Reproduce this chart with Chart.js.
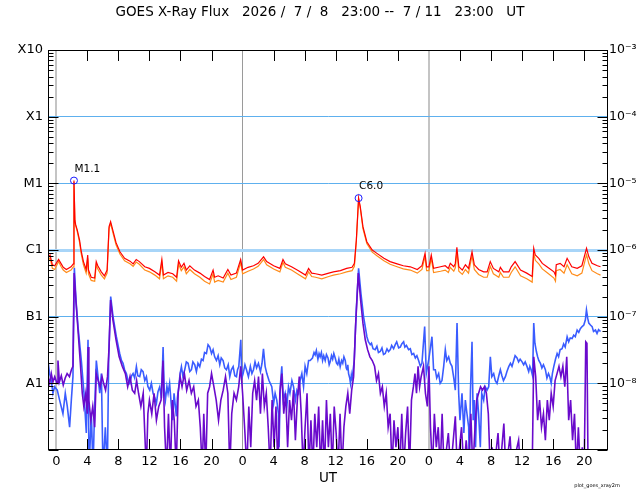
<!DOCTYPE html>
<html><head><meta charset="utf-8">
<script src="https://cdn.jsdelivr.net/npm/chart.js@4.4.1/dist/chart.umd.min.js"></script>
<style>html,body{margin:0;padding:0;background:#fff;}</style>
</head><body>
<canvas id="c" width="640" height="500"></canvas>
<script>
// Time in hours relative to 2026-07-09 00:00 UT
const longT = [-1.0,-0.8,-0.5,-0.2,0.3,0.6,0.9,1.3,1.9,2.2,2.28,2.4,2.5,2.7,3.0,3.2,3.5,3.85,4.05,4.15,4.5,4.95,5.15,5.35,5.8,6.2,6.55,6.8,7.0,7.3,7.7,8.2,8.8,9.5,9.9,10.3,10.7,11.4,12.0,12.7,13.3,13.6,13.8,14.4,15.0,15.5,15.75,16.1,16.45,16.75,17.2,17.8,18.5,19.1,19.75,20.2,20.4,20.85,21.5,22.1,22.5,23.2,23.75,24.0,24.7,25.4,26.0,26.7,27.1,28.0,28.8,29.2,29.5,30.3,31.2,32.1,32.5,32.9,33.4,34.2,35.1,35.7,36.6,37.4,38.1,38.4,38.65,38.94,39.15,39.5,40.0,40.7,41.3,42.2,43.0,43.9,44.7,45.6,46.5,47.1,47.5,47.7,48.0,48.3,48.6,49.5,50.1,50.5,50.75,51.2,51.4,51.6,51.85,52.3,52.7,53.1,53.55,53.85,54.4,55.05,55.5,55.9,56.3,57.0,57.2,57.6,58.3,58.6,59.1,59.8,60.6,61.3,61.5,61.7,62.15,62.6,63.2,64.1,64.3,64.4,64.9,65.4,65.8,66.4,67.1,67.7,68.3,68.6,69.0,69.7,70.1];
// 1-8 A flux (red)
const longF = [7.8e-7,8.4e-7,6.0e-7,5.8e-7,7.2e-7,6.3e-7,5.5e-7,5.1e-7,5.6e-7,6.2e-7,1.1e-5,2.8e-6,2.4e-6,2.0e-6,1.41e-6,9.8e-7,6.7e-7,5.1e-7,8.4e-7,5.0e-7,3.9e-7,3.8e-7,6.7e-7,5.8e-7,4.7e-7,4.1e-7,5.0e-7,2.24e-6,2.66e-6,1.95e-6,1.29e-6,9.4e-7,7.5e-7,6.8e-7,6.2e-7,7.2e-7,6.7e-7,5.6e-7,5.3e-7,4.7e-7,4.2e-7,7.2e-7,4.2e-7,4.6e-7,4.4e-7,3.9e-7,6.9e-7,5.5e-7,6.3e-7,5.0e-7,5.8e-7,5.0e-7,4.5e-7,4.0e-7,3.6e-7,5.0e-7,3.9e-7,4.1e-7,3.8e-7,5.1e-7,4.2e-7,4.5e-7,7.2e-7,5.0e-7,5.5e-7,5.8e-7,6.3e-7,7.9e-7,6.7e-7,5.8e-7,5.3e-7,7.2e-7,6.2e-7,5.6e-7,4.9e-7,4.2e-7,5.3e-7,4.5e-7,4.4e-7,4.2e-7,4.5e-7,4.7e-7,4.9e-7,5.3e-7,5.5e-7,6.3e-7,1.41e-6,6.0e-6,4.5e-6,2.24e-6,1.33e-6,1.0e-6,8.9e-7,7.5e-7,6.7e-7,6.2e-7,5.8e-7,5.6e-7,5.1e-7,5.8e-7,8.9e-7,5.6e-7,5.6e-7,8.4e-7,5.3e-7,5.6e-7,5.8e-7,5.3e-7,6.3e-7,5.6e-7,6.3e-7,1.1e-6,5.6e-7,5.0e-7,6.0e-7,5.3e-7,9.4e-7,6.0e-7,5.1e-7,4.7e-7,4.7e-7,6.7e-7,5.3e-7,4.7e-7,5.5e-7,4.7e-7,4.7e-7,5.6e-7,6.7e-7,5.0e-7,4.5e-7,4.0e-7,1.06e-6,8.4e-7,7.5e-7,6.3e-7,5.6e-7,4.7e-7,4.2e-7,6.0e-7,6.3e-7,5.6e-7,7.5e-7,5.6e-7,5.3e-7,5.8e-7,1.06e-6,7.9e-7,6.3e-7,5.8e-7,5.6e-7];
// 1-8 A flux, second satellite (orange)
const longF2 = [7.1e-7,7.6e-7,5.3e-7,5.1e-7,6.7e-7,5.7e-7,5.0e-7,4.6e-7,5.0e-7,5.6e-7,1.05e-5,2.7e-6,2.3e-6,1.9e-6,1.3e-6,9.0e-7,6.0e-7,4.5e-7,7.5e-7,4.4e-7,3.5e-7,3.4e-7,6.0e-7,5.2e-7,4.2e-7,3.7e-7,4.5e-7,2.1e-6,2.5e-6,1.8e-6,1.2e-6,8.7e-7,6.9e-7,6.2e-7,5.7e-7,6.6e-7,6.1e-7,5.0e-7,4.7e-7,4.2e-7,3.7e-7,6.5e-7,3.7e-7,4.1e-7,3.9e-7,3.4e-7,6.2e-7,4.9e-7,5.6e-7,4.4e-7,5.1e-7,4.4e-7,3.9e-7,3.4e-7,3.1e-7,4.4e-7,3.3e-7,3.5e-7,3.3e-7,4.5e-7,3.6e-7,3.9e-7,6.5e-7,4.4e-7,4.8e-7,5.2e-7,5.7e-7,7.2e-7,6.0e-7,5.2e-7,4.7e-7,6.5e-7,5.5e-7,5.0e-7,4.3e-7,3.7e-7,4.7e-7,4.0e-7,3.9e-7,3.7e-7,4.0e-7,4.2e-7,4.4e-7,4.7e-7,4.9e-7,5.7e-7,1.35e-6,5.8e-6,4.3e-6,2.1e-6,1.25e-6,9.3e-7,8.2e-7,6.9e-7,6.1e-7,5.6e-7,5.2e-7,5.0e-7,4.5e-7,5.1e-7,8.0e-7,4.9e-7,4.9e-7,7.5e-7,4.6e-7,4.8e-7,5.0e-7,4.6e-7,5.5e-7,4.8e-7,5.4e-7,9.5e-7,4.8e-7,4.3e-7,5.1e-7,4.5e-7,8.2e-7,5.1e-7,4.3e-7,3.9e-7,3.9e-7,5.7e-7,4.4e-7,3.9e-7,4.6e-7,3.9e-7,3.9e-7,4.6e-7,5.6e-7,4.1e-7,3.7e-7,3.3e-7,9.0e-7,7.0e-7,6.2e-7,5.2e-7,4.6e-7,3.8e-7,3.4e-7,4.9e-7,5.1e-7,4.5e-7,6.0e-7,4.4e-7,4.1e-7,4.5e-7,8.5e-7,6.2e-7,4.9e-7,4.4e-7,4.2e-7];
// 0.5-4 A flux (blue), [hour, flux]
const shortData = [[-1.07,2.2e-8],[-0.86,1.4e-8],[-0.64,1.1e-8],[-0.43,7.1e-9],[-0.21,8.9e-9],[0.13,7.9e-9],[0.43,5.6e-9],[0.86,3.5e-9],[1.16,7.1e-9],[1.42,4.5e-9],[1.72,2.2e-9],[1.94,5.6e-9],[2.15,1.26e-8],[2.33,5.4e-7],[2.54,1.78e-7],[2.8,7.1e-8],[3.23,2.2e-8],[3.57,7.1e-9],[3.87,1.8e-9],[4.09,4.5e-8],[4.22,5e-10],[4.52,3.5e-9],[4.73,5e-10],[4.95,4.5e-9],[5.16,2.2e-8],[5.38,1.26e-8],[5.6,7.1e-9],[5.81,1.4e-8],[6.02,5e-10],[6.32,2.2e-9],[6.58,5e-10],[6.75,2.2e-8],[7.01,2.0e-7],[7.31,1.0e-7],[7.74,5.0e-8],[8.17,2.8e-8],[8.4,2.2e-8],[8.6,2.0e-8],[8.8,1.6e-8],[9.03,1.4e-8],[9.25,1.1e-8],[9.46,1.0e-8],[9.7,1.3e-8],[9.89,1.4e-8],[10.1,1.2e-8],[10.32,1.78e-8],[10.5,1.3e-8],[10.75,1.26e-8],[10.95,1.6e-8],[11.18,1.5e-8],[11.4,1.1e-8],[11.61,1.26e-8],[11.8,9e-9],[12.04,7.9e-9],[12.25,1.0e-8],[12.47,7.1e-9],[12.7,6.0e-9],[12.9,5.0e-9],[13.1,7.5e-9],[13.33,8.9e-9],[13.55,6e-9],[13.76,3.5e-8],[13.9,8e-9],[14.06,5.6e-9],[14.25,9e-9],[14.4,7.1e-9],[14.6,1.0e-8],[14.83,4.5e-9],[15.0,2.8e-9],[15.17,7.1e-9],[15.3,5e-9],[15.47,3.2e-9],[15.6,6e-9],[15.78,8.9e-9],[15.95,1.4e-8],[16.12,1.78e-8],[16.3,1.3e-8],[16.55,1.6e-8],[16.75,2.1e-8],[16.98,2.0e-8],[17.2,1.5e-8],[17.41,1.6e-8],[17.6,2.1e-8],[17.84,1.9e-8],[18.05,1.5e-8],[18.25,2.0e-8],[18.48,1.78e-8],[18.7,2.3e-8],[18.91,2.2e-8],[19.1,2.9e-8],[19.34,2.8e-8],[19.55,3.8e-8],[19.77,3.5e-8],[20.0,2.8e-8],[20.2,3.2e-8],[20.4,2.5e-8],[20.63,2.2e-8],[20.85,2.6e-8],[21.06,1.9e-8],[21.25,2.4e-8],[21.49,2.2e-8],[21.7,1.7e-8],[21.92,1.6e-8],[22.15,1.9e-8],[22.35,1.26e-8],[22.55,1.6e-8],[22.78,1.78e-8],[23.0,1.3e-8],[23.21,1.26e-8],[23.35,1.6e-8],[23.51,1.78e-8],[23.77,4.5e-8],[23.9,1.2e-8],[24.07,1.4e-8],[24.3,1.9e-8],[24.5,1.6e-8],[24.75,1.26e-8],[25.0,1.8e-8],[25.2,1.4e-8],[25.4,1.6e-8],[25.6,2.1e-8],[25.8,1.7e-8],[26.04,2.0e-8],[26.3,1.5e-8],[26.5,2.0e-8],[26.69,3.3e-8],[26.9,1.8e-8],[27.12,1.4e-8],[27.4,1.1e-8],[27.76,8.9e-9],[28.0,5.0e-9],[28.19,7.1e-9],[28.4,5.6e-9],[28.62,3.5e-9],[28.7,1.1e-9],[28.85,8.9e-9],[29.05,1.8e-8],[29.25,5.6e-9],[29.48,7.1e-9],[29.7,4.5e-9],[29.91,8.9e-9],[30.1,7.1e-9],[30.35,1.1e-8],[30.56,8.9e-9],[30.8,5.6e-9],[31.0,7.9e-9],[31.2,7.1e-9],[31.4,1.1e-8],[31.63,1.4e-8],[31.85,8.9e-9],[32.05,1.8e-8],[32.27,1.4e-8],[32.5,2.2e-8],[32.7,2.2e-8],[33.0,2.4e-8],[33.2,2.9e-8],[33.35,2.66e-8],[33.5,3.1e-8],[33.7,2.3e-8],[33.85,2.8e-8],[33.99,2.5e-8],[34.15,2.9e-8],[34.3,2.2e-8],[34.45,2.6e-8],[34.64,2.2e-8],[34.8,2.7e-8],[35.0,2.4e-8],[35.15,1.9e-8],[35.28,2.1e-8],[35.45,2.6e-8],[35.6,2.3e-8],[35.75,2.8e-8],[35.93,2.4e-8],[36.1,2.0e-8],[36.25,1.9e-8],[36.4,2.3e-8],[36.57,1.78e-8],[36.75,2.2e-8],[36.9,2.0e-8],[37.05,2.5e-8],[37.22,2.2e-8],[37.35,1.7e-8],[37.45,1.6e-8],[37.55,1.9e-8],[37.65,1.4e-8],[37.8,1.2e-8],[37.9,1.0e-8],[38.0,1.3e-8],[38.08,1.1e-8],[38.38,2.2e-8],[38.64,1.26e-7],[38.94,5.3e-7],[39.24,2.24e-7],[39.58,1.0e-7],[40.01,5.0e-8],[40.2,4.2e-8],[40.44,3.8e-8],[40.6,4.0e-8],[40.8,3.3e-8],[41.08,3.2e-8],[41.3,3.6e-8],[41.5,2.9e-8],[41.73,3.0e-8],[41.95,3.4e-8],[42.15,2.7e-8],[42.37,2.8e-8],[42.6,3.3e-8],[42.8,3.0e-8],[43.02,3.2e-8],[43.2,3.7e-8],[43.45,3.3e-8],[43.66,3.8e-8],[43.85,4.2e-8],[44.1,3.4e-8],[44.31,3.5e-8],[44.5,3.9e-8],[44.74,4.2e-8],[44.9,3.5e-8],[45.1,3.7e-8],[45.38,3.2e-8],[45.6,3.3e-8],[45.8,2.7e-8],[46.03,2.8e-8],[46.25,2.4e-8],[46.45,2.6e-8],[46.67,2.2e-8],[46.9,1.8e-8],[47.1,2.0e-8],[47.45,7.1e-8],[47.66,1.4e-8],[47.96,2.2e-8],[48.39,5.0e-8],[48.6,1.6e-8],[48.82,1.6e-8],[49.0,1.2e-8],[49.25,1.4e-8],[49.45,1.0e-8],[49.68,1.1e-8],[49.9,1.8e-8],[50.11,3.2e-8],[50.3,2.2e-8],[50.54,2.5e-8],[50.75,2.0e-8],[50.97,1.8e-8],[51.2,1.2e-8],[51.4,7.9e-9],[51.62,8.0e-8],[51.83,7.1e-9],[52.0,2.8e-9],[52.26,7.1e-9],[52.5,1.8e-9],[52.69,5.6e-9],[52.9,3.5e-9],[53.12,2.2e-9],[53.2,5e-10],[53.35,7.9e-9],[53.55,4.2e-8],[53.7,2.8e-9],[53.85,5.6e-9],[54.0,1.1e-9],[54.2,7.1e-9],[54.4,3.5e-9],[54.62,1.1e-9],[54.8,7.1e-9],[55.05,5.6e-9],[55.25,8.9e-9],[55.48,7.9e-9],[55.7,8.9e-9],[55.91,2.5e-8],[56.1,1.26e-8],[56.34,1.4e-8],[56.55,1.1e-8],[56.77,1.0e-8],[57.0,1.3e-8],[57.2,1.6e-8],[57.4,1.3e-8],[57.6,1.1e-8],[57.85,1.26e-8],[58.05,1.5e-8],[58.28,1.78e-8],[58.5,2.0e-8],[58.7,1.8e-8],[58.92,2.2e-8],[59.1,2.6e-8],[59.35,2.4e-8],[59.55,2.1e-8],[59.75,2.3e-8],[60.0,2.1e-8],[60.2,1.9e-8],[60.4,2.1e-8],[60.64,1.78e-8],[60.85,1.5e-8],[61.0,1.8e-8],[61.16,1.6e-8],[61.35,1.3e-8],[61.5,8.0e-8],[61.65,4.0e-8],[61.84,3.0e-8],[62.0,2.5e-8],[62.15,2.2e-8],[62.36,2.0e-8],[62.55,1.7e-8],[62.75,1.9e-8],[63.0,1.6e-8],[63.2,1.2e-8],[63.4,1.4e-8],[63.56,1.26e-8],[63.75,1.0e-8],[63.9,1.4e-8],[64.08,1.78e-8],[64.3,2.3e-8],[64.51,2.8e-8],[64.7,2.5e-8],[64.9,3.2e-8],[65.15,3.3e-8],[65.35,3.9e-8],[65.55,3.5e-8],[65.8,5.0e-8],[66.0,4.2e-8],[66.2,4.8e-8],[66.44,4.7e-8],[66.65,5.3e-8],[66.85,5.0e-8],[67.09,6.3e-8],[67.3,5.8e-8],[67.5,6.6e-8],[67.73,7.1e-8],[67.95,7.5e-8],[68.15,9.0e-8],[68.29,1.26e-7],[68.45,9.5e-8],[68.59,8.0e-8],[68.8,7.5e-8],[69.02,7.1e-8],[69.2,6.0e-8],[69.45,6.3e-8],[69.65,5.6e-8],[69.85,6.4e-8],[70.1,6.0e-8]];
// 0.5-4 A flux, second satellite (purple)
const shortT2 = [-1.07,-0.85,-0.64,-0.43,-0.2,0.1,0.22,0.4,0.65,0.9,1.15,1.4,1.7,1.95,2.15,2.3,2.55,2.8,3.1,3.35,3.55,3.8,4.0,4.1,4.2,4.45,4.7,4.95,5.15,5.4,5.65,5.9,6.1,6.35,6.6,6.8,7.0,7.3,7.7,8.1,8.5,8.9,9.2,9.5,9.8,10.1,10.35,10.6,10.9,11.2,11.4,11.6,11.8,12.0,12.3,12.6,12.9,13.2,13.5,13.75,13.95,14.2,14.45,14.7,14.95,15.2,15.45,15.7,15.95,16.2,16.5,16.8,17.1,17.4,17.7,18.0,18.3,18.55,18.8,19.0,19.25,19.5,19.75,20.0,20.3,20.6,20.9,21.2,21.5,21.8,22.1,22.35,22.6,22.9,23.2,23.5,23.75,24.0,24.3,24.55,24.8,25.05,25.3,25.55,25.8,26.05,26.3,26.55,26.8,27.05,27.3,27.55,27.8,28.05,28.3,28.55,28.8,29.05,29.3,29.55,29.8,30.05,30.3,30.55,30.8,31.05,31.3,31.55,31.8,32.05,32.3,32.55,32.8,33.05,33.3,33.55,33.8,34.05,34.3,34.55,34.8,35.05,35.3,35.55,35.8,36.05,36.3,36.55,36.8,37.05,37.3,37.55,37.8,38.05,38.3,38.55,38.9,39.2,39.5,39.8,40.1,40.4,40.7,41.0,41.25,41.5,41.75,42.0,42.25,42.5,42.75,43.0,43.25,43.5,43.75,44.0,44.25,44.5,44.75,45.0,45.25,45.5,45.75,46.0,46.2,46.4,46.6,46.8,47.0,47.3,47.55,47.8,48.0,48.2,48.45,48.7,48.95,49.2,49.45,49.7,49.95,50.5,50.8,51.4,51.65,52.2,52.5,52.8,53.1,53.4,53.65,53.9,54.15,54.4,54.65,54.9,55.15,55.4,55.65,55.9,56.15,56.4,56.9,57.15,57.65,57.9,58.45,58.7,59.55,59.8,61.3,61.5,61.75,62.0,62.25,62.5,62.75,63.0,63.25,63.5,63.75,64.0,64.25,64.5,64.75,65.0,65.25,65.5,65.75,66.0,66.25,66.5,66.75,67.0,67.25,67.5,67.75,68.0,68.2,68.35,68.5,70.1];
const shortF2 = [1.26e-8,1.0e-8,1.4e-8,1.05e-8,1.26e-8,1.0e-8,2.2e-8,1.05e-8,1.3e-8,9.4e-9,1.2e-8,1.4e-8,1.26e-8,1.6e-8,1.8e-8,4.5e-7,1.6e-7,6.3e-8,2.0e-8,7.1e-9,4.5e-9,7.1e-9,3.5e-9,3.5e-8,5.6e-9,2.8e-9,4.5e-9,2.2e-9,1.4e-8,1.1e-8,8.9e-9,1.26e-8,1.0e-8,7.9e-9,1.26e-8,3.5e-8,1.78e-7,8.9e-8,4.5e-8,2.5e-8,1.8e-8,1.4e-8,8.9e-9,1.26e-8,7.9e-9,7.1e-9,1.1e-8,7.1e-9,4.5e-9,7.1e-9,1.8e-9,5e-10,3.5e-9,5.6e-9,3.5e-9,7.1e-9,2.8e-9,4.5e-9,5.6e-9,2.2e-8,2.2e-9,5e-10,3.5e-9,5e-10,5.6e-9,2.8e-9,5e-10,7.1e-9,1.26e-8,8.9e-9,1.4e-8,7.9e-9,1.1e-8,7.1e-9,8.9e-9,4.5e-9,5.6e-9,2.2e-9,5e-10,3.5e-9,5e-10,7.1e-9,8.9e-9,1.4e-8,8.9e-9,5.6e-9,2.8e-9,5.6e-9,7.9e-9,1.26e-8,7.1e-9,5e-10,3.5e-9,7.1e-9,5.6e-9,8.9e-9,1.8e-8,7.1e-9,1.8e-9,5e-10,4.5e-9,1.1e-9,7.1e-9,1.1e-8,5.6e-9,1.26e-8,3.5e-9,1.4e-8,4.5e-9,7.1e-9,2.2e-9,5e-10,5.6e-9,1.1e-9,4.5e-9,5e-10,7.1e-9,1.4e-8,3.5e-9,7.1e-9,1.1e-9,5.6e-9,2.8e-9,7.9e-9,1.4e-9,5.6e-9,1.26e-8,3.5e-9,5e-10,2.2e-9,7.1e-9,5e-10,2.8e-9,5e-10,3.5e-9,1.1e-9,4.5e-9,5e-10,2.8e-9,5e-10,5.6e-9,1.1e-9,3.5e-9,5e-10,4.5e-9,1.8e-9,5e-10,3.5e-9,5e-10,2.2e-9,4.5e-9,7.1e-9,3.5e-9,7.9e-9,1.26e-8,7.1e-8,4.5e-7,1.78e-7,8.0e-8,4.5e-8,3.2e-8,2.5e-8,2.2e-8,1.8e-8,1.1e-8,1.4e-8,7.1e-9,8.9e-9,4.5e-9,7.1e-9,2.2e-9,3.5e-9,5e-10,2.8e-9,1.1e-9,2.2e-9,5e-10,3.5e-9,5e-10,1.8e-9,4.5e-9,5e-10,5.6e-9,8.9e-9,1.4e-8,7.1e-9,1.8e-8,8.9e-9,1.26e-8,1.8e-8,7.1e-9,4.5e-9,1.8e-8,2.2e-9,5e-10,3.5e-9,1.1e-9,2.2e-9,5e-10,3.5e-9,5e-10,1.8e-9,5e-10,3.2e-9,5e-10,2.2e-9,5e-10,1.4e-9,5e-10,3.5e-9,5e-10,1.8e-9,5.6e-9,7.1e-9,8.9e-9,7.9e-9,8.9e-9,7.1e-9,3.5e-9,5e-10,1.1e-9,5e-10,1.8e-9,5e-10,2.5e-9,5e-10,1.6e-9,5e-10,1.4e-9,5e-10,5e-10,2.5e-8,1.26e-8,2.8e-9,5.6e-9,2.2e-9,3.5e-9,1.4e-9,5.6e-9,2.8e-9,7.1e-9,4.5e-9,1.1e-8,1.4e-8,1.8e-8,1.26e-8,1.8e-8,8.9e-9,2.5e-8,2.8e-9,5.6e-9,1.4e-9,3.5e-9,5e-10,2.2e-9,5e-10,1.1e-9,5e-10,4.2e-8,4.0e-8,5e-10,5e-10];

const tickHours = [0,4,8,12,16,20,24,28,32,36,40,44,48,52,56,60,64,68];
const classValues = [1e-3,1e-4,1e-5,1e-6,1e-7,1e-8];
const classLabels = ['X10','X1','M1','C1','B1','A1'];
const powerLabels = ['10\u207B\u00B3','10\u207B\u2074','10\u207B\u2075','10\u207B\u2076','10\u207B\u2077','10\u207B\u2078'];
const flareT = [2.28, 38.94];
const flareF = [1.1e-5, 6.0e-6];
const flareLabels = ['M1.1', 'C6.0'];
const titleText = 'GOES X-Ray Flux   2026 /  7 /  8   23:00 --  7 / 11   23:00   UT';

const FONT = 'DejaVu Sans';
const pts = (t, f) => t.map((v, i) => ({x: v, y: f[i]}));

const decor = {
  id: 'decor',
  afterDatasetsDraw(chart) {
    const {ctx, chartArea: a, scales: {x, y}} = chart;
    ctx.save();
    ctx.strokeStyle = '#000';
    ctx.lineWidth = 1;
    ctx.beginPath();
    tickHours.forEach(h => {
      if (h % 24 === 0) return;
      const px = Math.round(x.getPixelForValue(h)) + 0.5;
      ctx.moveTo(px, a.top); ctx.lineTo(px, a.top + 11);
      ctx.moveTo(px, a.bottom); ctx.lineTo(px, a.bottom - 11);
    });
    for (let d = -9; d < -3; d++) {
      for (let m = 1; m <= 9; m++) {
        const py = Math.round(y.getPixelForValue(m * Math.pow(10, d))) + 0.5;
        const len = m === 1 ? 10 : 5;
        ctx.moveTo(a.left, py); ctx.lineTo(a.left + len, py);
        ctx.moveTo(a.right, py); ctx.lineTo(a.right - len, py);
      }
    }
    ctx.stroke();
    ctx.strokeRect(a.left, Math.round(a.top) + 0.5, a.right - a.left, Math.round(a.bottom) - Math.round(a.top) - 1);
    flareT.forEach((t, i) => {
      const px = x.getPixelForValue(t), py = y.getPixelForValue(flareF[i]);
      ctx.strokeStyle = '#1a1aff';
      ctx.beginPath(); ctx.arc(px, py, 3.5, 0, Math.PI * 2); ctx.stroke();
      ctx.fillStyle = '#000';
      ctx.font = '10.5px "' + FONT + '"';
      ctx.textAlign = 'left'; ctx.textBaseline = 'alphabetic';
      ctx.fillText(flareLabels[i], px + 0.5, py - 9);
    });
    ctx.font = '5px "' + FONT + '"';
    ctx.textAlign = 'center'; ctx.textBaseline = 'middle';
    ctx.fillStyle = '#000';
    ctx.fillText('plot_goes_xray2m', 597, 486);
    ctx.restore();
  }
};

new Chart(document.getElementById('c'), {
  type: 'line',
  data: {
    datasets: [
      {data: pts(longT, longF), borderColor: '#ff0000', borderWidth: 1.2},
      {data: pts(longT, longF2), borderColor: '#ff8c1a', borderWidth: 1.2},
      {data: pts(shortT2, shortF2), borderColor: '#6a0acc', borderWidth: 1.6},
      {data: shortData.map(p => ({x: p[0], y: p[1]})), borderColor: '#3a5cff', borderWidth: 1.6}
    ]
  },
  options: {
    responsive: false,
    animation: false,
    events: [],
    elements: {line: {borderWidth: 1, tension: 0}, point: {radius: 0}},
    layout: {padding: 0},
    plugins: {
      legend: {display: false},
      tooltip: {enabled: false},
      title: {display: true, text: titleText, color: '#000',
        font: {family: FONT, size: 13.5, weight: 'normal', lineHeight: 1.2},
        padding: {top: 4.5, bottom: 50 - 4.5 - 13.5 * 1.2}}
    },
    scales: {
      x: {
        type: 'linear', position: 'bottom', min: -1, max: 71,
        afterBuildTicks: s => { s.ticks = tickHours.map(v => ({value: v})); },
        afterFit: s => { s.height = 50; },
        ticks: {autoSkip: false, maxRotation: 0, padding: 4, color: '#000',
          font: {family: FONT, size: 13},
          callback: v => String(((v % 24) + 24) % 24)},
        grid: {drawTicks: false,
          color: c => (c.tick && c.tick.value % 24 === 0) ? (c.tick.value === 24 ? '#9a9a9a' : '#c4c4c4') : 'rgba(0,0,0,0)',
          lineWidth: c => (c.tick && c.tick.value % 24 === 0 && c.tick.value !== 24) ? 2 : 1},
        border: {display: false},
        title: {display: true, text: 'UT', color: '#000', font: {family: FONT, size: 13.5}, padding: {top: 0, bottom: 13.5}}
      },
      y: {
        type: 'logarithmic', position: 'left', min: 1e-9, max: 1e-3,
        afterBuildTicks: s => { s.ticks = classValues.map(v => ({value: v})); },
        afterFit: s => { s.width = 48.5; },
        ticks: {padding: 5.5, color: '#000', font: {family: FONT, size: 13},
          callback: (v, i) => classLabels[i]},
        grid: {drawTicks: false,
          color: c => { const v = c.tick && c.tick.value; if (v === 1e-3) return 'rgba(0,0,0,0)'; return v === 1e-6 ? '#a8d5f8' : '#5eb0ee'; },
          lineWidth: c => (c.tick && c.tick.value === 1e-6) ? 3 : 1},
        border: {display: false}
      },
      y2: {
        type: 'logarithmic', position: 'right', min: 1e-9, max: 1e-3,
        afterBuildTicks: s => { s.ticks = classValues.map(v => ({value: v})); },
        afterFit: s => { s.width = 32.5; },
        ticks: {padding: 1.5, color: '#000', font: {family: FONT, size: 12.5},
          callback: (v, i) => powerLabels[i]},
        grid: {display: false, drawTicks: false},
        border: {display: false}
      }
    }
  },
  plugins: [decor]
});
</script>
</body></html>
